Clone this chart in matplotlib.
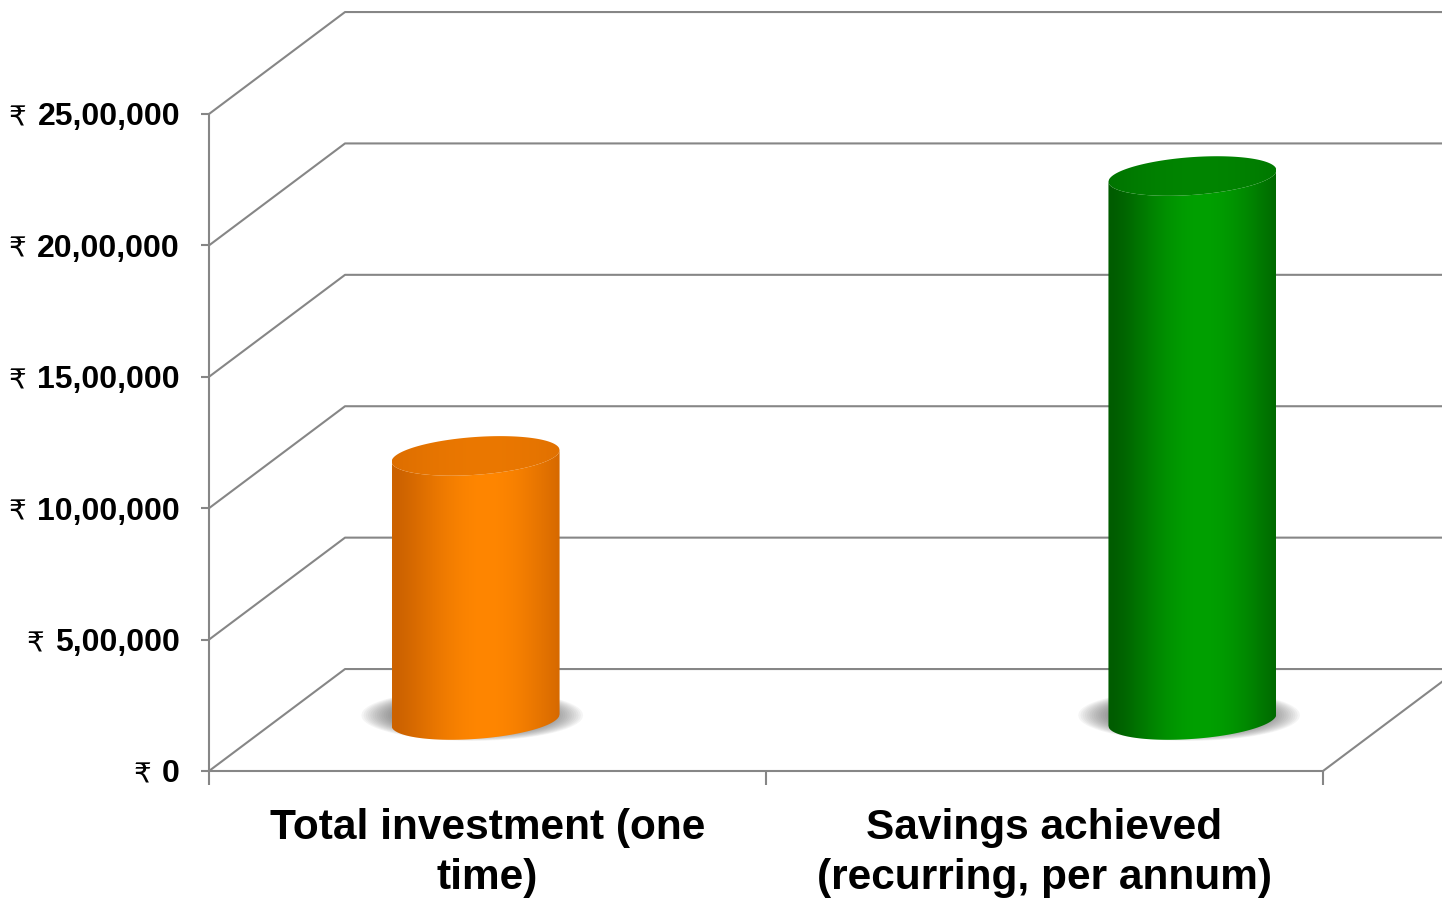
import matplotlib
matplotlib.use("Agg")
import matplotlib.pyplot as plt
import numpy as np
from matplotlib.patches import Polygon
from matplotlib.colors import to_rgb
from matplotlib.transforms import IdentityTransform

categories = ["Total investment (one\ntime)", "Savings achieved\n(recurring, per annum)"]
values = [1005000, 2070000]
ytick_values = [0, 500000, 1000000, 1500000, 2000000, 2500000]
ytick_labels = ["0", "5,00,000", "10,00,000", "15,00,000", "20,00,000", "25,00,000"]

# light / dark shade of each cylinder
light_colors = ["#FF8600", "#00A000"]
dark_colors = ["#CC6200", "#005C00"]

W, H = 1442, 901
FONT = ["Liberation Sans", "DejaVu Sans"]

fig = plt.figure(figsize=(W / 100, H / 100), dpi=100)
ax = fig.add_axes([209 / W, (H - 771) / H, 1114 / W, 657 / H])

# fake 3d box: depth offset of the back wall
depth_x = 0.2442
depth_y = 388000
grid_col = "#868686"
lw = 1.5

for v in ytick_values:
    ax.plot([0, depth_x, 2 + depth_x], [v, v + depth_y, v + depth_y],
            color=grid_col, lw=lw, clip_on=False, zorder=1)
ax.plot([2, 2 + depth_x], [0, depth_y], color=grid_col, lw=lw, clip_on=False, zorder=1)


def mix(c1, c2, t):
    c1, c2 = np.array(to_rgb(c1)), np.array(to_rgb(c2))
    return c2[None, :] * (1 - t[:, None]) + c1[None, :] * t[:, None]


def cylinder(cx, base, top, r, b, s, light, dark):
    u = np.linspace(-1, 1, 300)
    xs = cx + r * u
    half = b * np.sqrt(1 - u ** 2)

    # soft shadow on the floor
    for k in range(16):
        f = 1.0 - k * 0.02
        sx = cx - 0.04 * r + 1.32 * r * f * u
        sy = base + 0.25 * b + 1.35 * b * f * np.sqrt(1 - u ** 2)
        sy2 = base + 0.25 * b - 1.35 * b * f * np.sqrt(1 - u ** 2)
        ax.fill(np.r_[sx, sx[::-1]], np.r_[sy, sy2[::-1]], color="#5a5a5a",
                alpha=0.06, lw=0, zorder=2)

    # shading across the width
    t = np.clip(np.cos((u - 0.12) * 1.45), 0, 1) ** 1.3
    grad = mix(light, dark, t)

    body = Polygon(np.column_stack([np.r_[xs, xs[::-1]],
                                    np.r_[base - half + s * u, (top - half + s * u)[::-1]]]),
                   closed=True, fc="none", ec="none")
    ax.add_patch(body)
    im = ax.imshow(grad[None, :, :], extent=[cx - r, cx + r, base - 2 * b, top + 2 * b],
                   aspect="auto", interpolation="bilinear", origin="lower", zorder=3)
    im.set_clip_path(body)

    cap = Polygon(np.column_stack([np.r_[xs, xs[::-1]],
                                   np.r_[top - half + s * u, (top + half + s * u)[::-1]]]),
                  closed=True, fc="none", ec="none")
    ax.add_patch(cap)
    tcap = 0.5 + 0.5 * np.clip(np.cos((u - 0.1) * 1.3), 0, 1)
    cap_grad = mix(light, dark, tcap * 0.6)
    im2 = ax.imshow(cap_grad[None, :, :], extent=[cx - r, cx + r, top - 2 * b, top + 2 * b],
                    aspect="auto", interpolation="bilinear", origin="lower", zorder=4)
    im2.set_clip_path(cap)


# cylinders sit half way into the box, spread a little wider by perspective
bar_depth = 0.5
spread = 1.287
radius = 0.1508
ell_b = 72000
ell_s = 22000
for i, val in enumerate(values):
    cx = 1 + bar_depth * depth_x + (i + 0.5 - 1) * spread
    base = bar_depth * depth_y
    cylinder(cx, base, base + val, radius, ell_b, ell_s, light_colors[i], dark_colors[i])

ax.set_xlim(0, 2)
ax.set_ylim(0, 2500000)

for side in ["top", "right"]:
    ax.spines[side].set_visible(False)
for side in ["left", "bottom"]:
    ax.spines[side].set_color(grid_col)
    ax.spines[side].set_linewidth(lw)
    ax.spines[side].set_zorder(1)

ax.set_yticks(ytick_values, ytick_labels)
ax.set_xticks([0, 1, 2], [])
ax.set_xticks([0.5, 1.5], categories, minor=True)
ax.tick_params(axis="y", length=5.8, width=lw, color=grid_col, pad=15)
ax.tick_params(axis="x", which="major", length=10, width=lw, color=grid_col)
ax.tick_params(axis="x", which="minor", length=0, pad=27)
for lab in ax.get_yticklabels():
    lab.set_fontfamily(FONT)
    lab.set_fontweight("bold")
    lab.set_fontsize(23)
for lab in ax.get_xticklabels(minor=True):
    lab.set_fontfamily(FONT)
    lab.set_fontweight("bold")
    lab.set_fontsize(30.5)
    lab.set_linespacing(1.32)

# rupee sign in front of every value label
fig.canvas.draw()
renderer = fig.canvas.get_renderer()
for v, lab in zip(ytick_values, ax.get_yticklabels()):
    bb = lab.get_window_extent(renderer)
    y = ax.transData.transform((0, v))[1] - 1.5
    fig.text(bb.x0 - 11, y, "\u20b9", ha="right", va="center_baseline",
             fontsize=20, family=["DejaVu Sans", "Noto Sans"], transform=IdentityTransform())

fig.savefig("out.png", dpi=100)
